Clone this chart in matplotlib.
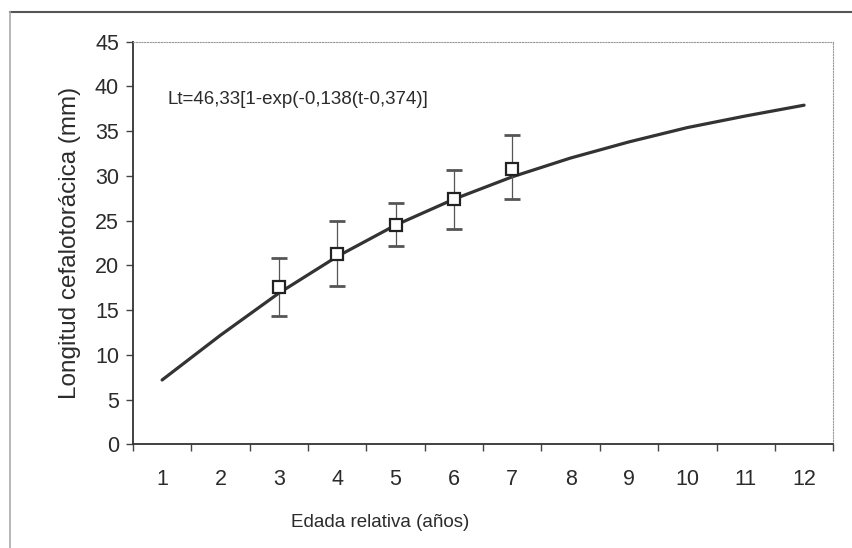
"""Von Bertalanffy growth curve with observed mean lengths per age."""

import numpy as np
import matplotlib
matplotlib.use('Agg')
import matplotlib.pyplot as plt
from matplotlib.lines import Line2D

plt.rcParams['font.family'] = ['Liberation Sans', 'DejaVu Sans']

# Fitted curve, one value per age class
ages = [1, 2, 3, 4, 5, 6, 7, 8, 9, 10, 11, 12]
fitted_length = [7.2, 12.2, 16.9, 21.0, 24.5, 27.4, 29.9, 32.0, 33.8, 35.4, 36.7, 37.9]

# Observed means with their error limits
obs_ages = [3, 4, 5, 6, 7]
obs_mean = [17.6, 21.3, 24.5, 27.4, 30.8]
obs_low = [14.4, 17.7, 22.2, 24.1, 27.4]
obs_high = [20.8, 25.0, 27.0, 30.7, 34.6]

equation = 'Lt=46,33[1-exp(-0,138(t-0,374)]'
ink = '#2b2b2b'

fig = plt.figure(figsize=(8.52, 5.48), dpi=100)
ax = fig.add_axes([0.156, 0.189, 0.822, 0.735])

ax.plot(ages, fitted_length, color='#333333', lw=2.3, solid_capstyle='round', zorder=2)

err = [np.array(obs_mean) - np.array(obs_low), np.array(obs_high) - np.array(obs_mean)]
ax.errorbar(obs_ages, obs_mean, yerr=err, fmt='none', ecolor='#555555',
            elinewidth=0.9, capsize=6, capthick=2.0, zorder=3)
ax.plot(obs_ages, obs_mean, ls='none', marker='s', ms=9, mfc='white',
        mec='#222222', mew=1.6, zorder=4)

ax.text(1.1, 38.5, equation, fontsize=13.5, color=ink, va='center', ha='left')

ax.set_xlim(0.5, 12.5)
ax.set_ylim(0, 45)
ax.set_yticks(range(0, 46, 5))
ax.set_xticks(ages)
ax.set_xticks(np.arange(0.5, 13, 1), minor=True)
ax.tick_params(axis='x', which='major', length=0, pad=18, labelsize=15.5, labelcolor=ink)
ax.tick_params(axis='x', which='minor', length=5, width=1, color='#444444', direction='out')
ax.tick_params(axis='y', length=5, width=1, color='#444444', pad=5, labelsize=15.5,
               labelcolor=ink)

for side in ['left', 'bottom']:
    ax.spines[side].set_color('#333333')
    ax.spines[side].set_linewidth(1.3)
for side in ['top', 'right']:
    ax.spines[side].set_color('#999999')
    ax.spines[side].set_linewidth(0.8)
    ax.spines[side].set_linestyle((0, (1, 1.5)))

ax.set_xlabel('Edada relativa (años)', fontsize=13.5, color=ink, labelpad=14)
ax.xaxis.set_label_coords(0.353, -0.173)
ax.set_ylabel('Longitud cefalotorácica (mm)', fontsize=17.5, color=ink, labelpad=10)

# outer chart frame (only top and left edges fall inside the picture)
fig.add_artist(Line2D([0.012, 1.0], [0.978, 0.978], color='#555555', lw=1.5))
fig.add_artist(Line2D([0.012, 0.012], [0.0, 0.978], color='#aaaaaa', lw=1.2))

fig.savefig('out.png', dpi=100)
